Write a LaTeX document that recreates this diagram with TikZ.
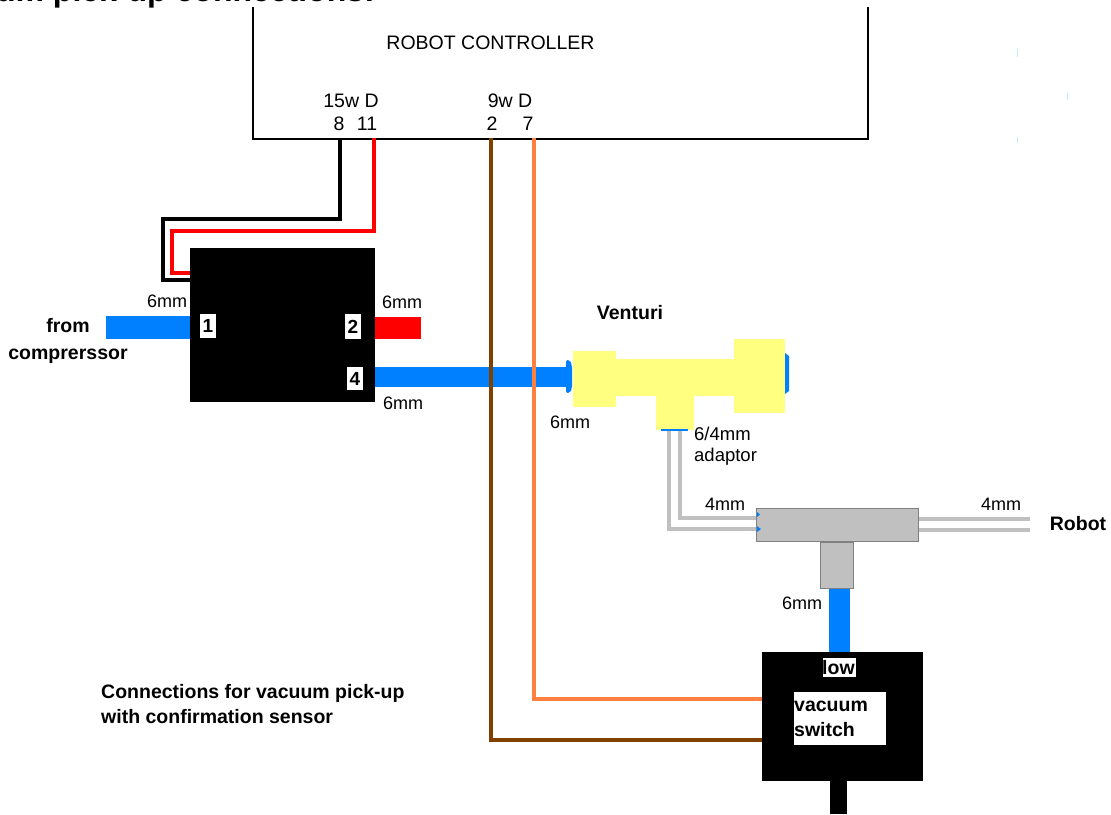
\documentclass[tikz,border=0pt]{standalone}
\usepackage{fontspec}
\setmainfont{Liberation Sans}
\usetikzlibrary{
    calc,
    positioning
}
\definecolor{tubeblue}{HTML}{0080FF}
\definecolor{wireorange}{HTML}{FF8040}
\definecolor{wirebrown}{HTML}{804000}
\definecolor{venturi}{HTML}{FFFF80}
\definecolor{pipegrey}{HTML}{C0C0C0}
\tikzset{
    block/.style={fill=black, draw=none, inner sep=0pt},
    portbox/.style={fill=white, inner sep=0pt, font=\fontsize{19}{22}\selectfont\bfseries},
    yellowpart/.style={fill=venturi, draw=none, inner sep=0pt},
    greypart/.style={fill=pipegrey, draw=gray, line width=1pt, inner sep=0pt},
    tag/.style={inner sep=0pt, font=\fontsize{18}{20}\selectfont},
    pintag/.style={inner sep=0pt, font=\fontsize{19.5}{22}\selectfont},
    boldtag/.style={inner sep=0pt, align=left, font=\fontsize{19.5}{25}\selectfont\bfseries},
    wire/.style={line width=4.5pt, line join=miter},
    thintube/.style={pipegrey, line width=4pt},
    tube/.style={tubeblue, line width=#1}
}
\begin{document}
\begin{tikzpicture}[x=1pt, y=-1pt]
    \useasboundingbox (0, 0) rectangle (1111, 814);
    \node[boldtag, anchor=base east, font=\fontsize{32}{36}\selectfont\bfseries] (title) at (375, 1.5) {Vacuum pick-up connections:};
    % controller
    \coordinate (ctla) at (253, 7);
    \coordinate (ctlb) at (253, 139);
    \coordinate (ctlc) at (868, 139);
    \coordinate (ctld) at (868, 7);
    \draw[line width=1.2pt] (ctla) -- (ctlb) -- (ctlc) -- (ctld);
    \node[pintag] (ctl) at (490.5, 43) {ROBOT CONTROLLER};
    \node[pintag] (d15) at (351, 101) {15w D};
    \node[pintag] (d9) at (510, 101) {9w D};
    \node[pintag] (pin8) at (339, 124) {8};
    \node[pintag] (pin11) at (367, 124) {11};
    \node[pintag] (pin2) at (492, 124) {2};
    \node[pintag] (pin7) at (528, 124) {7};
    \coordinate (w8) at (340, 138);
    \coordinate (w11) at (374, 138);
    \coordinate (w2) at (491, 138);
    \coordinate (w7) at (534, 138);
    % tubes
    \coordinate (comp) at (106, 327.5);
    \coordinate (exh) at (421, 328);
    \draw[tube=23pt] (comp) -- (191, 327.5);
    \draw[red, line width=22pt] (375, 328) -- (exh);
    \draw[tube=20pt] (375, 377) -- (571, 377);
    \draw[tube=21pt] (839.5, 588) -- (839.5, 653);
    % venturi
    \fill[tubeblue, rounded corners=2pt] (566, 360) -- (570, 360) -- (572, 366) -- (572, 388) -- (570, 393) -- (566, 393) -- cycle;
    \fill[tubeblue] (785, 353) -- (789, 356) -- (789, 391) -- (785, 394) -- cycle;
    \node[yellowpart, minimum width=43pt, minimum height=56pt] (vleft) at (594.5, 379) {};
    \node[yellowpart, minimum width=120pt, minimum height=37pt] (vbody) at (675, 377.5) {};
    \node[yellowpart, minimum width=51pt, minimum height=74pt] (vright) at (759.5, 376) {};
    \node[yellowpart, minimum width=38pt, minimum height=34pt] (vstem) at (675, 412.5) {};
    % grey pipes
    \coordinate (adpa) at (669, 430);
    \coordinate (adpb) at (680, 430);
    \coordinate (tina) at (757, 529);
    \coordinate (tinb) at (757, 518);
    \coordinate (routa) at (1030, 519);
    \coordinate (routb) at (1030, 530);
    \draw[thintube] (adpa) -- (669, 529) -- (tina);
    \draw[thintube] (adpb) -- (680, 518) -- (tinb);
    \draw[thintube] (918, 519) -- (routa);
    \draw[thintube] (918, 530) -- (routb);
    \draw[tubeblue, line width=2pt] (661, 429.5) -- (688, 429.5);
    \node[greypart, minimum width=33pt, minimum height=46pt] (tstem) at (836.5, 565) {};
    \node[greypart, minimum width=162pt, minimum height=33pt] (tbar) at (837, 525) {};
    \fill[tubeblue] (757, 512) -- (760, 514.5) -- (757, 517) -- cycle;
    \fill[tubeblue] (757, 526) -- (761, 529) -- (757, 532) -- cycle;
    % valve
    \draw[wire] (w8) -- (340, 219) -- (163, 219) -- (163, 280) -- (190, 280);
    \draw[wire, red] (w11) -- (374, 231) -- (172, 231) -- (172, 273) -- (190, 273);
    \node[block, minimum width=185pt, minimum height=154pt] (valve) at (282.5, 325) {};
    \node[portbox, minimum width=16pt, minimum height=24pt] (port1) at (208, 326) {1};
    \node[portbox, minimum width=16pt, minimum height=25pt] (port2) at (353, 326.5) {2};
    \node[portbox, minimum width=16pt, minimum height=23pt] (port4) at (355, 378.5) {4};
    % vacuum switch
    \draw[wire, wirebrown] (w2) -- (491, 740) -- (763, 740);
    \draw[wire, wireorange, line width=3.5pt] (w7) -- (534, 699) -- (763, 699);
    \node[block, minimum width=161pt, minimum height=129pt] (vsw) at (842, 716.5) {};
    \node[block, minimum width=17pt, minimum height=34pt] (vtail) at (838.5, 797) {};
    \node[fill=white, inner sep=0pt, minimum width=33pt, minimum height=19pt] (lowbox) at (839.5, 667.5) {};
    \node[boldtag, anchor=west] (low) at (822, 668) {low};
    \node[fill=white, inner sep=0pt, minimum width=92pt, minimum height=53pt] (swbox) at (840, 718.5) {};
    \node[boldtag, anchor=west] (swtxt) at (794, 719) {vacuum\\switch};
    % labels
    \node[tag] (m1) at (167, 301) {6mm};
    \node[tag] (m2) at (402, 302) {6mm};
    \node[tag] (m3) at (403, 403) {6mm};
    \node[tag] (m4) at (570, 422) {6mm};
    \node[tag] (m5) at (725, 504) {4mm};
    \node[tag] (m6) at (1001, 504) {4mm};
    \node[tag] (m7) at (802, 603) {6mm};
    \node[tag, anchor=west, align=left, font=\fontsize{18.5}{21}\selectfont] (adp) at (694, 446) {6/4mm\\adaptor};
    \node[boldtag, align=center, font=\fontsize{19.5}{27}\selectfont\bfseries] (src) at (68, 341) {from\\comprerssor};
    \node[boldtag] (vent) at (630, 313) {Venturi};
    \node[boldtag] (rob) at (1078, 524) {Robot};
    \node[boldtag, anchor=west] (note) at (101, 704) {Connections for vacuum pick-up\\with confirmation sensor};
    % specks
    \draw[cyan!25, line width=1pt] (1017, 49) -- (1017, 57) (1067, 93) -- (1067, 100) (1017, 137) -- (1017, 143);
\end{tikzpicture}
\end{document}
